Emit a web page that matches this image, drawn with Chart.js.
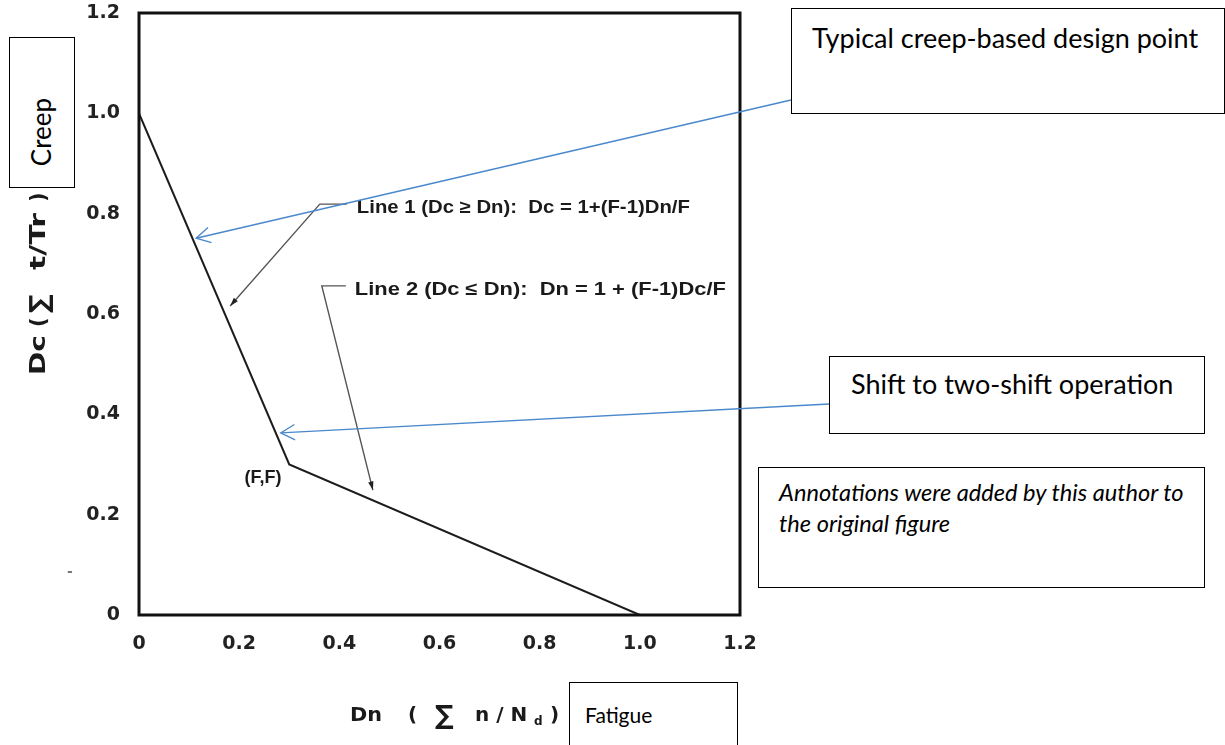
<!DOCTYPE html>
<html>
<head>
<meta charset="utf-8">
<script src="https://cdn.jsdelivr.net/npm/chart.js@4.4.0/dist/chart.umd.min.js"></script>
<style>
html,body{margin:0;padding:0;background:#fff;}
#wrap{position:relative;width:1225px;height:745px;overflow:hidden;background:#fff;}
#c{position:absolute;left:0;top:0;}
.box{position:absolute;border:1.6px solid #000;background:#fff;box-sizing:border-box;font-family:Lato,"Open Sans",sans-serif;color:#000;}
.box .t{position:absolute;white-space:nowrap;line-height:1;}
</style>
</head>
<body>
<div id="wrap">
<canvas id="c" width="1225" height="745"></canvas>
<div class="box" style="left:791px;top:8px;width:434px;height:106px;"><div class="t" style="left:20px;top:15px;font-size:27px;">Typical creep-based design point</div></div>
<div class="box" style="left:829px;top:356px;width:376px;height:78px;"><div class="t" style="left:21px;top:13px;font-size:27px;">Shift to two-shift operation</div></div>
<div class="box" style="left:758px;top:467px;width:447px;height:121px;"><div class="t" style="left:20px;top:9px;font-size:23.6px;font-style:italic;line-height:31px;">Annotations were added by this author to<br>the original figure</div></div>
<div class="box" style="left:9px;top:37px;width:66px;height:151px;"><div class="t" style="left:31px;top:94px;font-size:26px;transform:translate(-50%,-50%) rotate(-90deg);">Creep</div></div>
<div class="box" style="left:569px;top:682px;width:169px;height:80px;"><div class="t" style="left:15px;top:21px;font-size:21px;">Fatigue</div></div>
</div>
<script>
// ---- data ----
const dnValues = [0, 0.3, 1.0];
const dcValues = [1.0, 0.3, 0];
const xTickValues = [0, 0.2, 0.4, 0.6, 0.8, 1.0, 1.2];
const xTickLabels = ['0', '0.2', '0.4', '0.6', '0.8', '1.0', '1.2'];
const yTickValues = [0, 0.2, 0.4, 0.6, 0.8, 1.0, 1.2];
const yTickLabels = ['0', '0.2', '0.4', '0.6', '0.8', '1.0', '1.2'];
const line1Label = 'Line 1 (Dc \u2265 Dn):  Dc = 1+(F-1)Dn/F';
const line2Label = 'Line 2 (Dc \u2264 Dn):  Dn = 1 + (F-1)Dc/F';
const kneeLabel = '(F,F)';
// annotation anchors in data units [Dn, Dc]
const line1LabelAt = [0.435, 0.813];
const line1Leader = [[0.415, 0.819], [0.361, 0.819], [0.182, 0.616]];
const line2LabelAt = [0.431, 0.650];
const line2Leader = [[0.413, 0.656], [0.365, 0.656], [0.467, 0.249]];
const kneeLabelAt = [0.2455, 0.273];
const creepPointTip = [0.114, 0.751];
const shiftPointTip = [0.283, 0.363];

const FIG_FONT = '"DejaVu Sans", sans-serif';
const LBL_FONT = '"Liberation Sans", Arial, sans-serif';

function fillStretched(ctx, text, x, y, targetW) {
  const w = ctx.measureText(text).width;
  ctx.save();
  ctx.translate(x, y);
  ctx.scale(targetW / w, 1);
  ctx.fillText(text, 0, 0);
  ctx.restore();
}
function blueArrow(ctx, sx, sy, tx, ty) {
  ctx.save();
  ctx.strokeStyle = '#4a88cc';
  ctx.lineWidth = 1.3;
  ctx.beginPath(); ctx.moveTo(sx, sy); ctx.lineTo(tx, ty); ctx.stroke();
  const ang = Math.atan2(sy - ty, sx - tx);
  const L = 16, w = 0.5;
  ctx.beginPath();
  ctx.moveTo(tx + L * Math.cos(ang + w), ty + L * Math.sin(ang + w));
  ctx.lineTo(tx, ty);
  ctx.lineTo(tx + L * Math.cos(ang - w), ty + L * Math.sin(ang - w));
  ctx.stroke();
  ctx.restore();
}
function leader(ctx, pts) {
  ctx.save();
  ctx.strokeStyle = '#555';
  ctx.lineWidth = 1.4;
  ctx.beginPath();
  pts.forEach((p, i) => i ? ctx.lineTo(p[0], p[1]) : ctx.moveTo(p[0], p[1]));
  ctx.stroke();
  const a = pts[pts.length - 2], b = pts[pts.length - 1];
  const ang = Math.atan2(a[1] - b[1], a[0] - b[0]);
  const L = 9, w = 0.3;
  ctx.fillStyle = '#222';
  ctx.beginPath();
  ctx.moveTo(b[0], b[1]);
  ctx.lineTo(b[0] + L * Math.cos(ang + w), b[1] + L * Math.sin(ang + w));
  ctx.lineTo(b[0] + L * Math.cos(ang - w), b[1] + L * Math.sin(ang - w));
  ctx.closePath(); ctx.fill();
  ctx.restore();
}

const annotPlugin = {
  id: 'annot',
  afterDraw(chart) {
    const { ctx, chartArea: a, scales } = chart;
    const P = p => [scales.x.getPixelForValue(p[0]), scales.y.getPixelForValue(p[1])];
    ctx.save();
    // frame
    ctx.strokeStyle = '#111';
    ctx.lineWidth = 3;
    ctx.strokeRect(a.left, a.top, a.right - a.left, a.bottom - a.top);
    // leaders
    leader(ctx, line1Leader.map(P));
    leader(ctx, line2Leader.map(P));
    // labels
    ctx.fillStyle = '#1a1a1a';
    ctx.textBaseline = 'middle';
    ctx.textAlign = 'left';
    ctx.font = 'bold 18px ' + LBL_FONT;
    let p = P(line1LabelAt); fillStretched(ctx, line1Label, p[0], p[1] + 1, 333);
    p = P(line2LabelAt); fillStretched(ctx, line2Label, p[0], p[1] + 1, 371);
    ctx.textAlign = 'center';
    ctx.font = 'bold 18px ' + LBL_FONT;
    p = P(kneeLabelAt); ctx.fillText(kneeLabel, p[0] + 1, p[1]);

    // y axis title (rotated), pieces laid out along the axis
    ctx.fillStyle = '#1a1a1a';
    ctx.textAlign = 'left';
    ctx.save();
    ctx.translate(40, 375);
    ctx.rotate(-Math.PI / 2);
    ctx.font = 'bold 21px ' + FIG_FONT;
    fillStretched(ctx, 'Dc', 0, 0, 40);
    ctx.fillText('(', 48, 0);
    ctx.font = 'bold 26px ' + FIG_FONT;
    ctx.fillText('\u2211', 62, 1);
    ctx.font = 'bold 21px ' + FIG_FONT;
    fillStretched(ctx, 't/Tr', 105, 0, 57);
    ctx.fillText(')', 173, 0);
    ctx.restore();

    // x axis title with subscript
    const yy = 716;
    ctx.font = 'bold 20px ' + FIG_FONT;
    fillStretched(ctx, 'Dn', 350, yy, 32);
    ctx.fillText('(', 408, yy);
    ctx.font = 'bold 26px ' + FIG_FONT;
    ctx.fillText('\u2211', 435, yy + 1);
    ctx.font = 'bold 20px ' + FIG_FONT;
    ctx.fillText('n / N', 475, yy);
    ctx.font = 'bold 12px ' + FIG_FONT;
    ctx.fillText('d', 534, yy + 6);
    ctx.font = 'bold 20px ' + FIG_FONT;
    ctx.fillText(')', 550, yy);

    // stray scan mark
    ctx.fillStyle = '#777';
    ctx.font = 'bold 14px ' + FIG_FONT;
    ctx.fillText('-', 67, 572);
    // blue annotation arrows from the text boxes
    let t = P(creepPointTip); blueArrow(ctx, 791, 100, t[0], t[1]);
    t = P(shiftPointTip); blueArrow(ctx, 829, 404, t[0], t[1]);
    ctx.restore();
  }
};

const tickFont = { family: FIG_FONT, weight: 'bold', size: 19 };
new Chart(document.getElementById('c').getContext('2d'), {
  type: 'line',
  data: {
    datasets: [{
      data: dnValues.map((v, i) => ({ x: v, y: dcValues[i] })),
      borderColor: '#1c1c1c',
      borderWidth: 2,
      pointRadius: 0,
      fill: false,
      tension: 0
    }]
  },
  options: {
    responsive: false,
    animation: false,
    layout: { padding: { top: 13, right: 485, bottom: 0, left: 0 }, autoPadding: false },
    plugins: { legend: { display: false }, tooltip: { enabled: false } },
    scales: {
      x: {
        type: 'linear', min: 0, max: 1.2,
        grid: { display: false, drawTicks: false },
        border: { display: false },
        afterBuildTicks: s => { s.ticks = xTickValues.map(v => ({ value: v })); },
        afterFit: s => { s.height = 130; s.paddingLeft = 0; s.paddingRight = 0; s.paddingTop = 0; s.paddingBottom = 0; },
        ticks: { callback: (v, i) => xTickLabels[i], font: tickFont, color: '#222', padding: 18, maxRotation: 0, autoSkip: false }
      },
      y: {
        type: 'linear', min: 0, max: 1.2,
        grid: { display: false, drawTicks: false },
        border: { display: false },
        afterBuildTicks: s => { s.ticks = yTickValues.map(v => ({ value: v })); },
        afterFit: s => { s.width = 139; s.paddingTop = 0; s.paddingBottom = 0; s.paddingLeft = 0; s.paddingRight = 0; },
        ticks: { callback: (v, i) => yTickLabels[i], font: tickFont, color: '#222', padding: 19, autoSkip: false }
      }
    }
  },
  plugins: [annotPlugin]
});
</script>
</body>
</html>
